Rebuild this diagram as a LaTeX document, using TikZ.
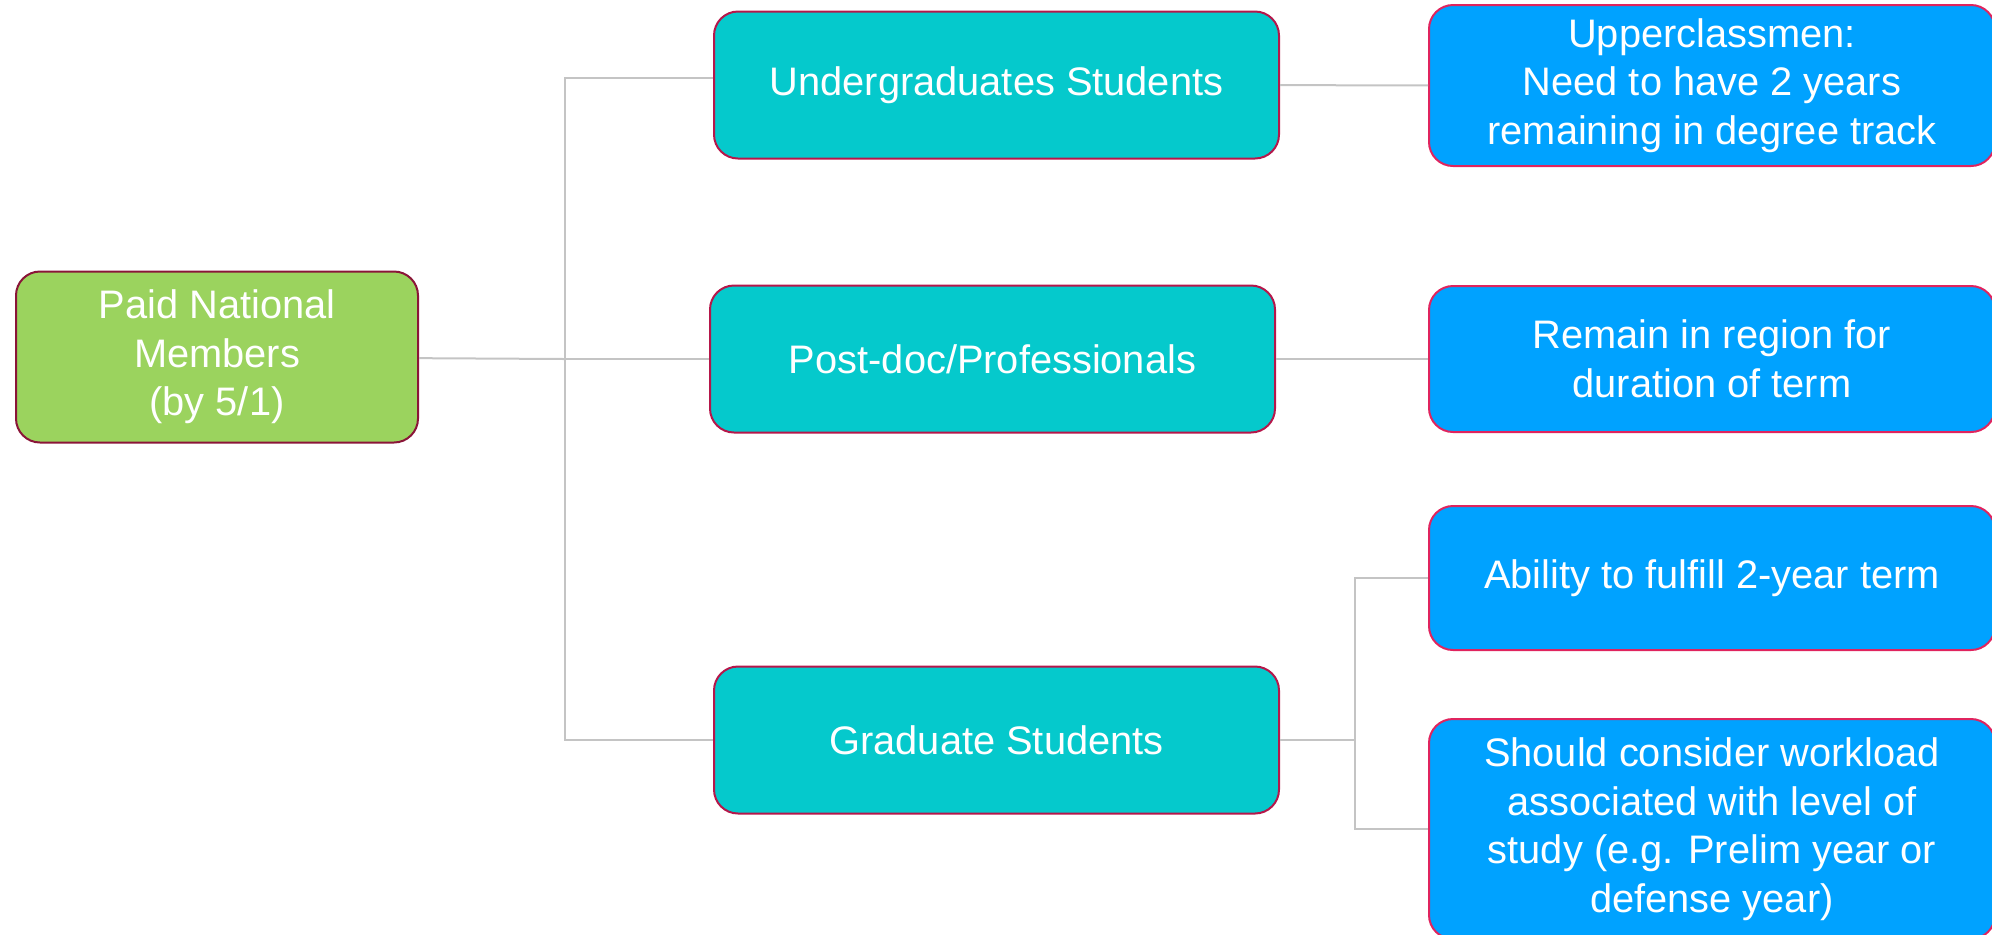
\documentclass[tikz,border=0pt]{standalone}
\usepackage{fontspec}
\setmainfont{Liberation Sans}
\usepackage{tikz}
\usetikzlibrary{positioning}
\definecolor{rootgreen}{HTML}{9BD35E}
\definecolor{rootedge}{HTML}{8A1538}
\definecolor{midteal}{HTML}{05C9CC}
\definecolor{midedge}{HTML}{B5174A}
\definecolor{leafblue}{HTML}{00A2FF}
\definecolor{leafedge}{HTML}{E0245E}
\definecolor{linegray}{HTML}{C4C4C4}

\begin{document}
\begin{tikzpicture}[x=0.5pt, y=-0.5pt,
    box/.style={draw, line width=1pt, rounded corners=12pt, text=white, align=center,
                font=\fontsize{19.9}{24.3}\selectfont, inner sep=0pt},
    rootbox/.style={box, fill=rootgreen, draw=rootedge, minimum width=201pt, minimum height=85.5pt},
    midbox/.style={box, fill=midteal, draw=midedge, minimum width=282.5pt, minimum height=73.5pt},
    leafbox/.style={box, fill=leafblue, draw=leafedge, minimum width=283pt},
    link/.style={draw=linegray, line width=1pt}]
         \useasboundingbox (0,0) rectangle (1992,934);
         \node [rootbox] (PNM) at (217, 357) {Paid National\\Members\\(by 5/1)};
         \node [midbox] (UG) at (996.5, 85) {Undergraduates Students};
         \node [midbox] (PD) at (992.5, 359) {Post-doc/Professionals};
         \node [midbox] (GS) at (996.5, 740) {Graduate Students};
         \node [leafbox, minimum height=80.5pt] (UC) at (1712, 85.5) {Upperclassmen:\\Need to have 2 years\\remaining in degree track};
         \node [leafbox, minimum height=73pt] (RR) at (1712, 359) {Remain in region for\\duration of term};
         \node [leafbox, minimum height=72pt] (AB) at (1712, 578) {Ability to fulfill 2-year term};
         \node [leafbox, minimum height=110pt] (SC) at (1712, 829) {Should consider workload\\associated with level of\\study (e.g. Prelim year or\\defense year)};
         \coordinate (F1) at (565, 359);
         \coordinate (F2) at (1355, 740);
         \draw [link] (PNM) -- (F1);
         \draw [link] (F1) |- ([yshift=3.75pt]UG.west);
         \draw [link] (F1) -- (PD);
         \draw [link] (F1) |- (GS);
         \draw [link] (UG) -- (UC);
         \draw [link] (PD) -- (RR);
         \draw [link] (GS) -- (F2);
         \draw [link] (F2) |- (AB);
         \draw [link] (F2) |- (SC);
 \end{tikzpicture}
\end{document}
